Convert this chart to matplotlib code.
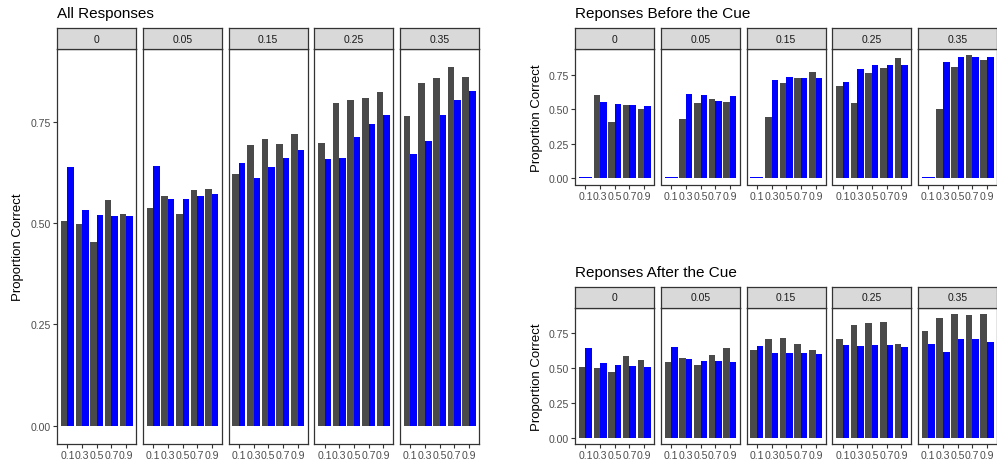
import matplotlib.pyplot as plt
import numpy as np

plt.rcParams['font.family'] = ['Liberation Sans', 'DejaVu Sans']

facets = ["0", "0.05", "0.15", "0.25", "0.35"]
x_levels = [0.1, 0.3, 0.5, 0.7, 0.9]
x_labels = ["0.1", "0.3", "0.5", "0.7", "0.9"]
y_ticks = [0.0, 0.25, 0.5, 0.75]

# proportion correct per facet, one value per x level
all_grey = [
    [0.506, 0.498, 0.454, 0.557, 0.523],
    [0.538, 0.567, 0.523, 0.582, 0.584],
    [0.622, 0.693, 0.706, 0.696, 0.720],
    [0.698, 0.797, 0.804, 0.809, 0.824],
    [0.765, 0.846, 0.858, 0.885, 0.861],
]
all_blue = [
    [0.639, 0.533, 0.520, 0.516, 0.516],
    [0.641, 0.560, 0.560, 0.567, 0.572],
    [0.649, 0.612, 0.639, 0.661, 0.679],
    [0.659, 0.661, 0.711, 0.743, 0.767],
    [0.669, 0.703, 0.767, 0.804, 0.826],
]

nan = np.nan
before_grey = [
    [nan, 0.603, 0.405, 0.530, 0.502],
    [nan, 0.427, 0.545, 0.574, 0.550],
    [nan, 0.444, 0.690, 0.723, 0.769],
    [0.668, 0.545, 0.762, 0.798, 0.871],
    [nan, 0.502, 0.805, 0.892, 0.856],
]
before_blue = [
    [0.007, 0.550, 0.535, 0.530, 0.521],
    [0.007, 0.608, 0.600, 0.559, 0.593],
    [0.007, 0.711, 0.733, 0.723, 0.723],
    [0.697, 0.791, 0.820, 0.820, 0.820],
    [0.007, 0.842, 0.878, 0.878, 0.878],
]

after_grey = [
    [0.506, 0.499, 0.470, 0.585, 0.556],
    [0.542, 0.571, 0.521, 0.592, 0.642],
    [0.628, 0.707, 0.714, 0.671, 0.628],
    [0.707, 0.807, 0.822, 0.829, 0.671],
    [0.764, 0.857, 0.886, 0.879, 0.886],
]
after_blue = [
    [0.642, 0.535, 0.521, 0.513, 0.506],
    [0.650, 0.564, 0.549, 0.549, 0.542],
    [0.657, 0.607, 0.607, 0.607, 0.599],
    [0.664, 0.657, 0.664, 0.664, 0.650],
    [0.671, 0.614, 0.707, 0.707, 0.685],
]

W, H = 997, 464
GREY = "#4A4A4A"
BLUE = "#0000FF"
EDGE = "#333333"
TXT = "#4D4D4D"


def px(x, y, w, h):
    # pixel box (left, top, width, height) -> figure fraction rect
    return [x / W, 1 - (y + h) / H, w / W, h / H]


def draw_block(fig, grey, blue, left, top, bottom, title, ylab_x):
    bw = 0.09
    ymax = np.nanmax(np.array(grey + blue)) * 1.05
    ymin = -0.05 * ymax / 1.05
    step, pw, sh = 85.7, 79, 20.7
    for i, name in enumerate(facets):
        x0 = left + i * step
        ax = fig.add_axes(px(x0, top, pw, bottom - top))
        for j, x in enumerate(x_levels):
            g, b = grey[i][j], blue[i][j]
            if np.isnan(g):
                ax.bar(x, b, width=2 * bw, color=BLUE, linewidth=0)
            else:
                ax.bar(x - bw / 2, g, width=bw, color=GREY, linewidth=0)
                ax.bar(x + bw / 2, b, width=bw, color=BLUE, linewidth=0)
        ax.set_xlim(-0.039, 1.039)
        ax.set_ylim(ymin, ymax)
        ax.set_xticks(x_levels)
        ax.set_xticklabels(x_labels)
        ax.set_yticks(y_ticks)
        ax.tick_params(axis='both', length=3, width=0.8, color=EDGE,
                       labelsize=7.6, labelcolor=TXT, pad=1.5)
        if i == 0:
            ax.set_yticklabels(["0.00", "0.25", "0.50", "0.75"])
        else:
            ax.tick_params(axis='y', left=False, labelleft=False)
        for s in ax.spines.values():
            s.set_color(EDGE)
            s.set_linewidth(0.9)

        # facet strip
        st = fig.add_axes(px(x0, top - sh, pw, sh))
        st.set_facecolor("#D9D9D9")
        st.set_xticks([])
        st.set_yticks([])
        for s in st.spines.values():
            s.set_color(EDGE)
            s.set_linewidth(0.9)
        st.text(0.5, 0.5, name, ha='center', va='center', fontsize=7.5,
                color="#1A1A1A", transform=st.transAxes)

    fig.text(left / W, 1 - (top - sh - 15) / H, title, ha='left',
             va='center', fontsize=11, color='black')
    fig.text(ylab_x / W, 1 - ((top + bottom) / 2) / H, "Proportion Correct",
             rotation=90, ha='center', va='center', fontsize=9.5)


def main():
    fig = plt.figure(figsize=(W / 100, H / 100), dpi=100)

    draw_block(fig, all_grey, all_blue, 57.3, 50, 444.5,
               "All Responses", 18)
    draw_block(fig, before_grey, before_blue, 575.3, 50, 185.5,
               "Reponses Before the Cue", 537)
    draw_block(fig, after_grey, after_blue, 575.3, 308.7, 445,
               "Reponses After the Cue", 537)

    fig.savefig("out.png", dpi=100)


if __name__ == "__main__":
    main()
